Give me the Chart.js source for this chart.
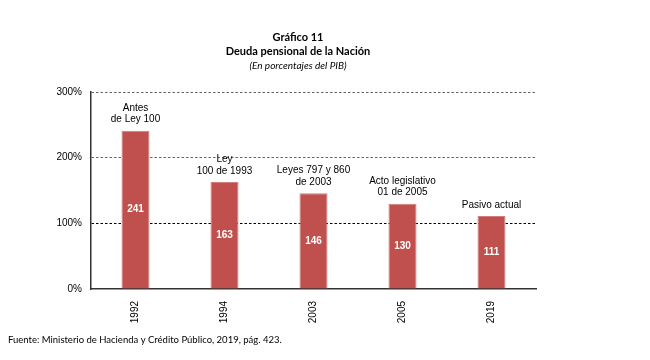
<!DOCTYPE html>
<html><head><meta charset="utf-8">
<script src="https://cdn.jsdelivr.net/npm/chart.js@4"></script>
<style>html,body{margin:0;padding:0;background:#fff}#wrap{width:650px;height:360px;position:relative}</style>
</head><body><div id="wrap"><canvas id="c" width="650" height="360"></canvas></div>
<script>
const categories = ["1992", "1994", "2003", "2005", "2019"];
const values = [241, 163, 146, 130, 111];
const annotations = [["Antes", "de Ley 100"], ["Ley", "100 de 1993"], ["Leyes 797 y 860", "de 2003"], ["Acto legislativo", "01 de 2005"], ["Pasivo actual"]];
const yTicks = [0, 100, 200, 300];
const titleLines = ["Gráfico 11", "Deuda pensional de la Nación"];
const subtitle = "(En porcentajes del PIB)";
const sourceText = "Fuente: Ministerio de Hacienda y Crédito Público, 2019, pág. 423.";

const labelPlugin = {
  id: 'labels',
  afterDatasetsDraw(chart) {
    const ctx = chart.ctx;
    const meta = chart.getDatasetMeta(0);
    ctx.save();
    meta.data.forEach((bar, i) => {
      ctx.fillStyle = '#fff';
      ctx.font = 'bold 10px "Liberation Sans", Arial, sans-serif';
      ctx.textAlign = 'center';
      ctx.textBaseline = 'middle';
      ctx.fillText(String(values[i]), bar.x, (bar.y + bar.base) / 2);
      ctx.fillStyle = '#000';
      ctx.font = '10px "Liberation Sans", Arial, sans-serif';
      const lines = annotations[i];
      const lh = 11.5;
      for (let k = 0; k < lines.length; k++) {
        const y = bar.y - 11 - (lines.length - 1 - k) * lh;
        ctx.fillText(lines[k], bar.x, y);
      }
    });
    ctx.restore();
  },
  afterDraw(chart) {
    const ctx = chart.ctx;
    ctx.save();
    ctx.fillStyle = '#000';
    ctx.textAlign = 'center';
    ctx.textBaseline = 'middle';
    ctx.font = 'bold 11px Lato, "Open Sans", sans-serif';
    ctx.fillText(titleLines[0], 298, 37);
    ctx.fillText(titleLines[1], 298, 51);
    ctx.font = 'italic 10px Lato, "Open Sans", sans-serif';
    ctx.fillText(subtitle, 298, 66);
    ctx.textAlign = 'left';
    ctx.font = '9.5px Lato, "Open Sans", sans-serif';
    ctx.fillText(sourceText, 8, 340);
    ctx.restore();
  }
};

new Chart(document.getElementById('c'), {
  type: 'bar',
  data: {
    labels: categories,
    datasets: [{
      data: values,
      backgroundColor: '#C0504D',
      borderColor: '#D37B79',
      borderWidth: 1,
      categoryPercentage: 1,
      barPercentage: 0.315
    }]
  },
  options: {
    responsive: false,
    animation: false,
    devicePixelRatio: 1,
    layout: { padding: { left: 0, top: 92, right: 114, bottom: 31 } },
    plugins: { legend: { display: false }, tooltip: { enabled: false }, title: { display: false } },
    scales: {
      x: {
        grid: { display: false },
        border: { display: true, color: '#333', width: 1.5 },
        ticks: {
          color: '#000', minRotation: 90, maxRotation: 90, padding: 4,
          font: { family: '"Liberation Sans", Arial, sans-serif', size: 10 }
        },
        afterFit(s) { s.height = 40; }
      },
      y: {
        min: 0, max: 300,
        afterBuildTicks(s) { s.ticks = yTicks.map(v => ({ value: v })); },
        grid: {
          drawTicks: false,
          color: c => c.tick && c.tick.value === 0 ? 'rgba(0,0,0,0)' : (c.tick && c.tick.value === 100 ? '#000' : '#666'),
          lineWidth: 1
        },
        border: { display: true, color: '#333', width: 1.5, dash: [2.5, 2] },
        ticks: {
          color: '#000', padding: 9,
          font: { family: '"Liberation Sans", Arial, sans-serif', size: 10 },
          callback: v => v + '%'
        },
        afterFit(s) { s.width = 91; }
      }
    }
  },
  plugins: [labelPlugin]
});
</script></body></html>
